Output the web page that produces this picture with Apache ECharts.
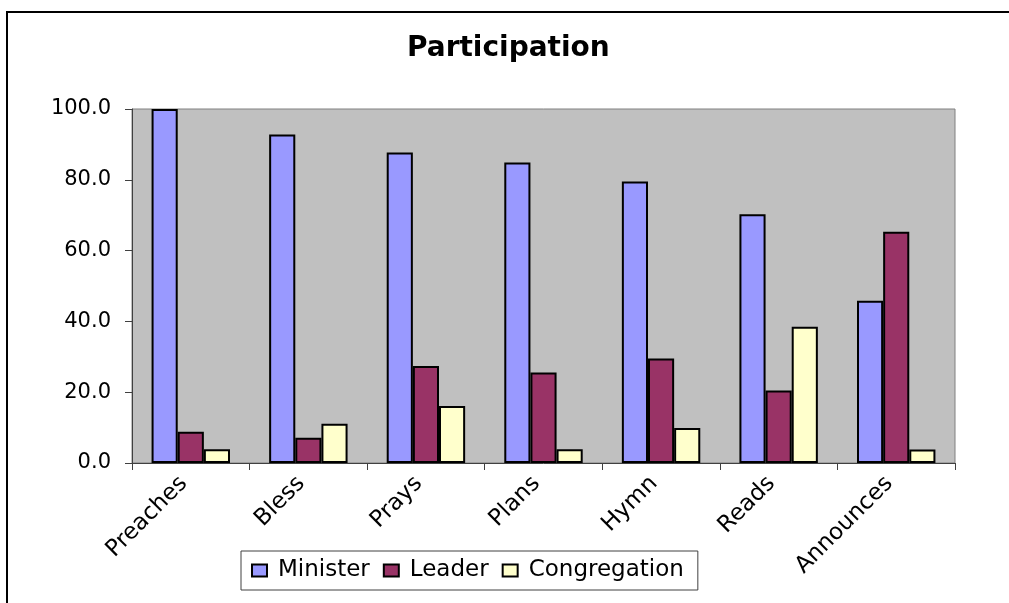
<!DOCTYPE html>
<html>
<head>
<meta charset="utf-8">
<script src="https://cdn.jsdelivr.net/npm/echarts@6/dist/echarts.min.js"></script>
<style>
  html, body { margin: 0; padding: 0; background: #fff; }
  #chart { width: 1009px; height: 603px; }
</style>
</head>
<body>
<div id="chart"></div>
<script>
const categories = ["Preaches", "Bless", "Prays", "Plans", "Hymn", "Reads", "Announces"];
const minister = [100.0, 92.8, 87.7, 84.9, 79.5, 70.3, 45.8];
const leader = [8.8, 7.1, 27.4, 25.6, 29.5, 20.5, 65.3];
const congregation = [3.9, 11.1, 16.1, 3.9, 9.9, 38.5, 3.8];
const yTicks = [0, 20, 40, 60, 80, 100];

const font = "DejaVu Sans";
const chart = echarts.init(document.getElementById("chart"));

const barStyle = (color) => ({
  color: color,
  borderColor: "#000",
  borderWidth: 2,
});

chart.setOption({
  backgroundColor: "#fff",
  animation: false,
  title: {
    text: "Participation",
    left: 407,
    top: 35,
    padding: 0,
    textStyle: { fontFamily: font, fontWeight: "bold", fontSize: 28, color: "#000" },
  },
  graphic: [
    {
      type: "rect",
      shape: { x: 7, y: 12, width: 1200, height: 800 },
      style: { fill: "none", stroke: "#000", lineWidth: 2 },
      silent: true,
    },
  ],
  legend: {
    left: 241,
    top: 551,
    padding: [8, 14, 8, 10],
    itemGap: 13,
    itemWidth: 15,
    itemHeight: 12,
    borderColor: "#404040",
    borderWidth: 1,
    icon: "rect",
    textStyle: { fontFamily: font, fontSize: 23, color: "#000", padding: [0, 0, 0, 6] },
    data: ["Minister", "Leader", "Congregation"],
  },
  grid: {
    left: 132,
    right: 54,
    top: 109,
    bottom: 140,
    show: true,
    backgroundColor: "#C0C0C0",
    borderColor: "#808080",
    borderWidth: 1,
  },
  xAxis: {
    type: "category",
    data: categories,
    axisLine: { lineStyle: { color: "#404040", width: 1 } },
    axisTick: { show: true, length: 7, lineStyle: { color: "#404040" } },
    axisLabel: {
      rotate: 45,
      margin: 10,
      padding: [0, 10, 0, 0],
      fontFamily: font,
      fontSize: 23,
      color: "#000",
    },
  },
  yAxis: {
    type: "value",
    min: yTicks[0],
    max: yTicks[yTicks.length - 1],
    interval: 20,
    splitLine: { show: false },
    axisLine: { show: true, lineStyle: { color: "#404040", width: 1 } },
    axisTick: { show: true, length: 7, lineStyle: { color: "#404040" } },
    axisLabel: {
      margin: 21,
      fontFamily: font,
      fontSize: 21,
      color: "#000",
      formatter: (v) => v.toFixed(1),
    },
  },
  series: [
    {
      name: "Minister",
      type: "bar",
      data: minister,
      barGap: "0%",
      barCategoryGap: "33.3%",
      itemStyle: barStyle("#9999FF"),
    },
    {
      name: "Leader",
      type: "bar",
      data: leader,
      itemStyle: barStyle("#993366"),
    },
    {
      name: "Congregation",
      type: "bar",
      data: congregation,
      itemStyle: barStyle("#FFFFCC"),
    },
  ],
});
</script>
</body>
</html>
